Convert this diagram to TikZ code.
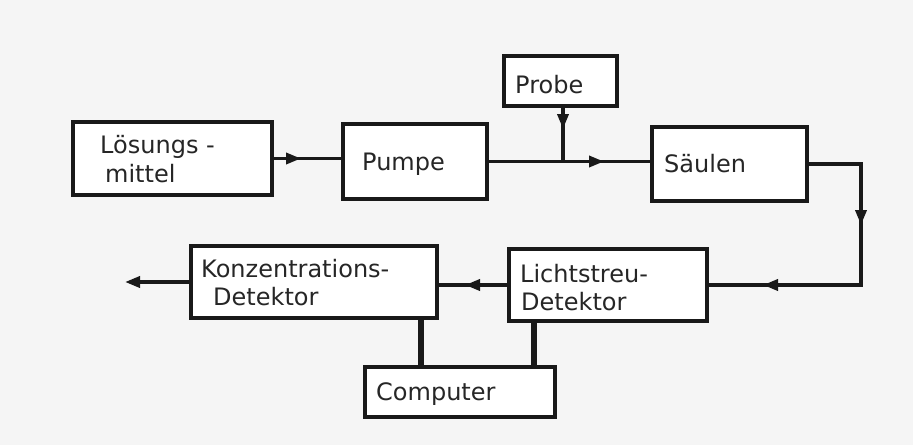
\documentclass[tikz,border=0pt]{standalone}
\usepackage{fontspec}
\setmainfont{DejaVu Sans}
\usetikzlibrary{arrows.meta,decorations.markings,calc}
\begin{document}
\begin{tikzpicture}[x=1pt,y=-1pt,
  box/.style={draw=black!90, line width=4pt, fill=white, inner sep=0pt},
  lbl/.style={anchor=base west, inner sep=0pt, text=black!85, font=\fontsize{24}{28}\selectfont},
  conn/.style={draw=black!90, line width=3.5pt, line join=miter},
  bus/.style={draw=black!90, line width=6.5pt},
  tipone/.style={postaction={decorate}, decoration={markings, mark=at position #1 with {\arrow{Triangle[length=15pt,width=11pt]}}}},
  tiptwo/.style 2 args={postaction={decorate}, decoration={markings,
     mark=at position #1 with {\arrow{Triangle[length=15pt,width=11pt]}},
     mark=at position #2 with {\arrow{Triangle[length=15pt,width=11pt]}}}},
]
\fill[gray!8] (0,0) rectangle (913,445);
\useasboundingbox (0,0) rectangle (913,445);

% boxes
\node[box, minimum width=199pt, minimum height=73pt] (los) at (172.5,158.5) {};
\node[box, minimum width=144pt, minimum height=75pt] (pumpe) at (415,161.5) {};
\node[box, minimum width=113pt, minimum height=50pt] (probe) at (560.5,81) {};
\node[box, minimum width=155pt, minimum height=74pt] (saeulen) at (729.5,164) {};
\node[box, minimum width=246pt, minimum height=72pt] (konz) at (314,282) {};
\node[box, minimum width=198pt, minimum height=72pt] (licht) at (608,285) {};
\node[box, minimum width=190pt, minimum height=50pt] (comp) at (460,392) {};

% labels
\node[lbl] (t1) at (100,153) {Lösungs -};
\node[lbl] (t2) at (105,182) {mittel};
\node[lbl] (t3) at (362,170) {Pumpe};
\node[lbl] (t4) at (515,93) {Probe};
\node[lbl] (t5) at (664,172) {Säulen};
\node[lbl] (t6) at (201,277) {Konzentrations-};
\node[lbl] (t7) at (213,305) {Detektor};
\node[lbl] (t8) at (520,282) {Lichtstreu-};
\node[lbl] (t9) at (521,310) {Detektor};
\node[lbl] (t10) at (376,400) {Computer};

% connectors
\coordinate (out) at (125,283);
\draw[conn, tipone=27pt] (los.east) -- (los.east -| pumpe.west);
\draw[conn, tipone=115pt] (pumpe.east) -- (pumpe.east -| saeulen.west);
\draw[conn, tipone=21pt] ([xshift=2.5pt]probe.south) -- ([xshift=2.5pt]probe.south |- pumpe.east);
\draw[conn, tiptwo={113pt}{271pt}] (saeulen.east) -- ++(52,0) |- (licht.east);
\draw[conn, tipone=42pt] (licht.west) -- (licht.west -| konz.east);
\draw[conn, -{Triangle[length=15pt,width=11pt]}] (konz.west) -- (out |- konz.west);
\draw[bus] ([xshift=107pt]konz.south) -- ([xshift=107pt]konz.south |- comp.north);
\draw[bus] ([xshift=-74pt]licht.south) -- ([xshift=-74pt]licht.south |- comp.north);
\end{tikzpicture}
\end{document}
